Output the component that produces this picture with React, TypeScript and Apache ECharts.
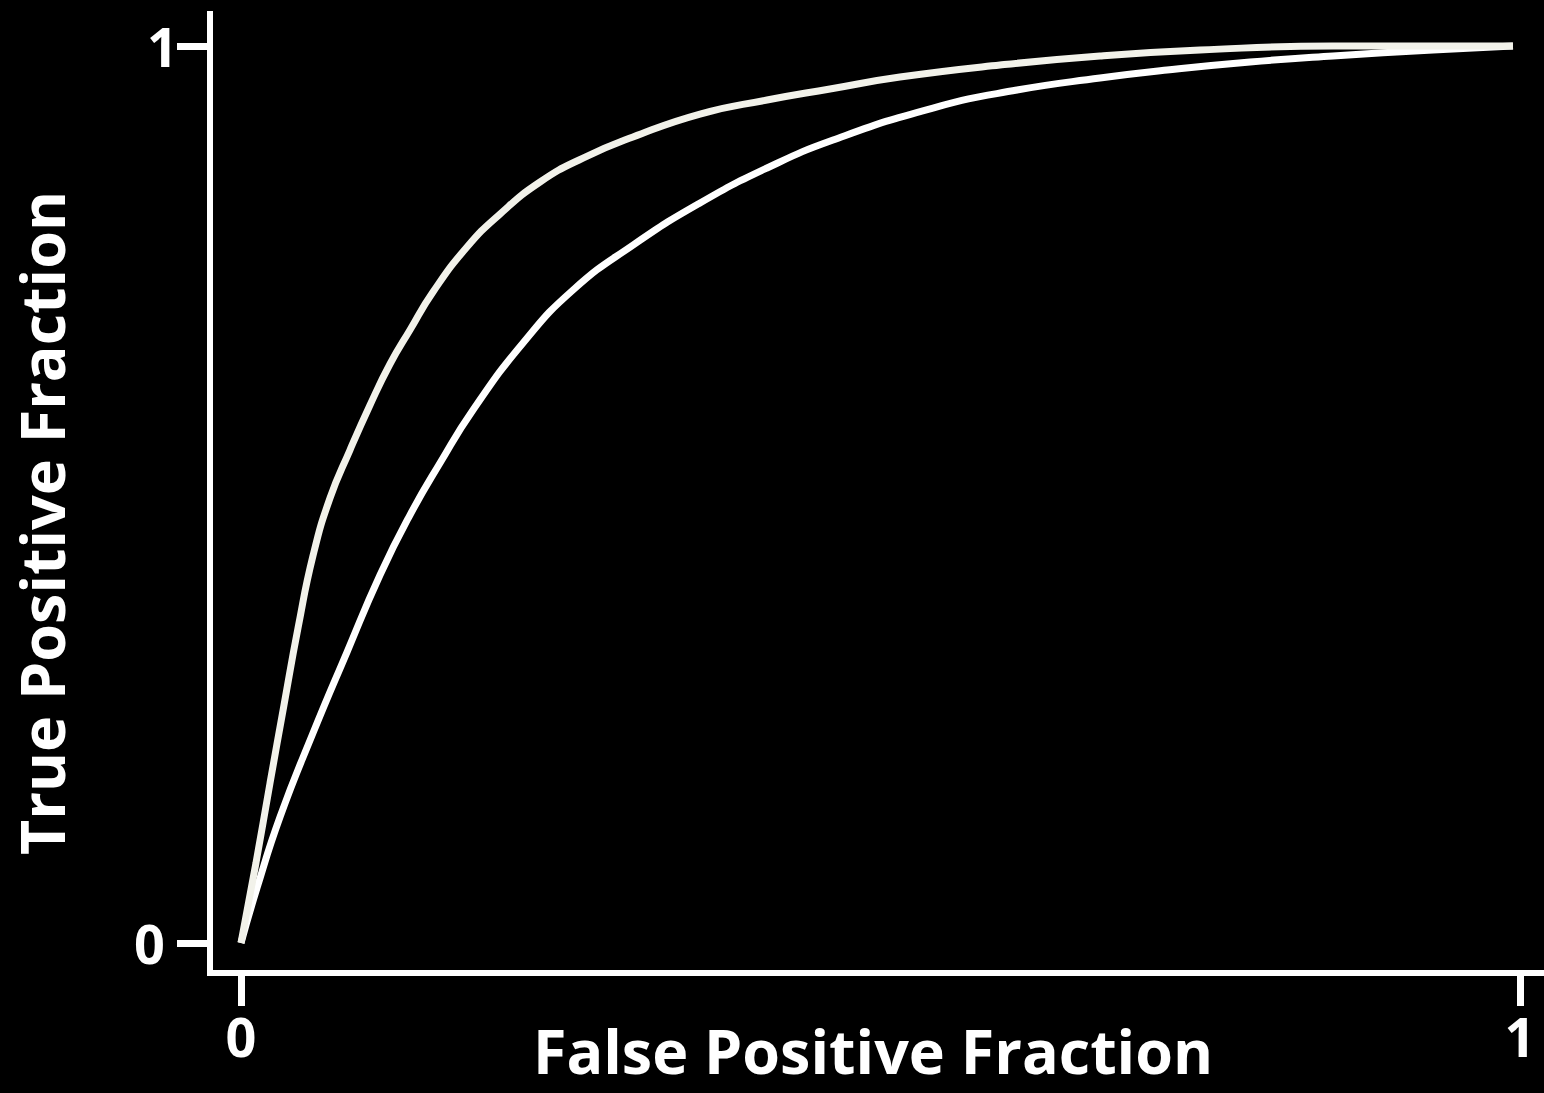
import React, { useEffect, useRef } from "react";
import * as echarts from "echarts";

const xTickValues = [0, 1];
const yTickValues = [0, 1];
const xTitle = "False Positive Fraction";
const yTitle = "True Positive Fraction";

const upperFpf = [0, 0.0117, 0.0227, 0.0336, 0.0446, 0.0563, 0.0696, 0.0852, 0.1009, 0.1165, 0.1321, 0.1501, 0.1767, 0.2025, 0.2338, 0.2674, 0.3065, 0.3589, 0.4113, 0.4605, 0.5152, 0.5934, 0.6716, 0.7498, 0.8538, 0.9945];
const upperTpf = [0, 0.0892, 0.1784, 0.2653, 0.3513, 0.4318, 0.4961, 0.5496, 0.5998, 0.6455, 0.6834, 0.7258, 0.7759, 0.8127, 0.8484, 0.8751, 0.8986, 0.9242, 0.9398, 0.9521, 0.9654, 0.9788, 0.9889, 0.9955, 1.0, 1.0];

const lowerFpf = [0, 0.0125, 0.0305, 0.0563, 0.0829, 0.1087, 0.1321, 0.1556, 0.1814, 0.2205, 0.2596, 0.3065, 0.3589, 0.4113, 0.4629, 0.541, 0.6067, 0.6716, 0.724, 0.7889, 0.8538, 0.932, 0.9945];
const lowerTpf = [0, 0.0613, 0.1405, 0.2341, 0.3244, 0.4103, 0.4771, 0.5351, 0.5942, 0.6689, 0.728, 0.7781, 0.825, 0.864, 0.8952, 0.9309, 0.9509, 0.9643, 0.9732, 0.9822, 0.9889, 0.9955, 1.0];

const zip = (xs: number[], ys: number[]) => xs.map((x, i) => [x, ys[i]]);

export default function App() {
  const ref = useRef<HTMLDivElement>(null);
  useEffect(() => {
    document.body.style.margin = "0";
    document.body.style.background = "#000";
    const chart = echarts.init(ref.current!, null, { renderer: "svg" });
    const font = "Open Sans";
    chart.setOption({
      animation: false,
      backgroundColor: "#000000",
      grid: { left: 210, right: 0, top: 14, bottom: 120, containLabel: false, outerBoundsMode: "none" },
      xAxis: {
        type: "value",
        min: -0.02424,
        max: 1.01877,
        splitLine: { show: false },
        axisLine: { show: true, onZero: false, lineStyle: { color: "#ffffff", width: 6, cap: "square" } },
        axisTick: { show: true, customValues: xTickValues, length: 33, lineStyle: { color: "#ffffff", width: 7 } },
        axisLabel: {
          customValues: xTickValues,
          color: "#ffffff",
          fontFamily: font,
          fontWeight: "bold",
          fontSize: 54,
          margin: 36,
        },
      },
      yAxis: {
        type: "value",
        min: -0.03344,
        max: 1.0357,
        splitLine: { show: false },
        axisLine: { show: true, onZero: false, lineStyle: { color: "#ffffff", width: 6, cap: "square" } },
        axisTick: { show: true, customValues: yTickValues, length: 33, lineStyle: { color: "#ffffff", width: 7 } },
        axisLabel: {
          customValues: yTickValues,
          color: "#ffffff",
          fontFamily: font,
          fontWeight: "bold",
          fontSize: 54,
          margin: 32,
          formatter: (v: number) => (v === 1 ? "{one|1}" : "{zero|0}"),
          rich: {
            one: { color: "#ffffff", fontFamily: font, fontWeight: "bold", fontSize: 54 },
            zero: { color: "#ffffff", fontFamily: font, fontWeight: "bold", fontSize: 54, padding: [0, 13, 0, 0] },
          },
        },
      },
      graphic: [
        {
          type: "text",
          x: 41,
          y: 523,
          rotation: Math.PI / 2,
          style: {
            text: yTitle,
            fill: "#ffffff",
            fontFamily: font,
            fontWeight: "bold",
            fontSize: 61,
            textAlign: "center",
            textVerticalAlign: "middle",
          },
        },
        {
          type: "text",
          x: 873,
          y: 1050,
          style: {
            text: xTitle,
            fill: "#ffffff",
            fontFamily: font,
            fontWeight: "bold",
            fontSize: 61,
            textAlign: "center",
            textVerticalAlign: "middle",
          },
        },
      ],
      series: [
        {
          type: "line",
          data: zip(lowerFpf, lowerTpf),
          showSymbol: false,
          smooth: 0.5,
          lineStyle: { color: "#ffffff", width: 7 },
          z: 2,
        },
        {
          type: "line",
          data: zip(upperFpf, upperTpf),
          showSymbol: false,
          smooth: 0.5,
          lineStyle: { color: "#f2f2ea", width: 7 },
          z: 3,
        },
      ],
    });
    return () => chart.dispose();
  }, []);
  return <div ref={ref} style={{ width: 1544, height: 1093, background: "#000" }} />;
}
